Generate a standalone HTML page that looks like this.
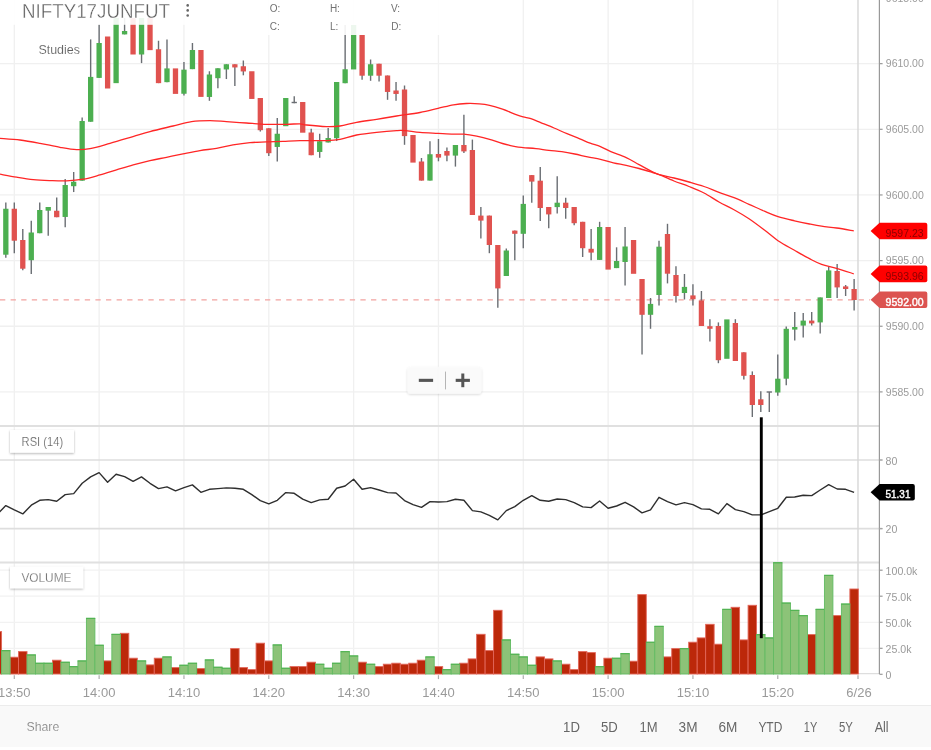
<!DOCTYPE html>
<html><head><meta charset="utf-8"><title>Chart</title>
<style>html,body{margin:0;padding:0;background:#fff;overflow:hidden}body{width:931px;height:750px;position:relative;font-family:"Liberation Sans",sans-serif}</style></head>
<body>
<svg width="931" height="750" viewBox="0 0 931 750" style="position:absolute;left:0;top:0">
<rect width="931" height="750" fill="#fff"/>
<line x1="14.30" y1="0" x2="14.30" y2="674.0" stroke="#f0f0f0" stroke-width="1.3"/>
<line x1="99.13" y1="0" x2="99.13" y2="674.0" stroke="#f0f0f0" stroke-width="1.3"/>
<line x1="183.96" y1="0" x2="183.96" y2="674.0" stroke="#f0f0f0" stroke-width="1.3"/>
<line x1="268.79" y1="0" x2="268.79" y2="674.0" stroke="#f0f0f0" stroke-width="1.3"/>
<line x1="353.62" y1="0" x2="353.62" y2="674.0" stroke="#f0f0f0" stroke-width="1.3"/>
<line x1="438.45" y1="0" x2="438.45" y2="674.0" stroke="#f0f0f0" stroke-width="1.3"/>
<line x1="523.28" y1="0" x2="523.28" y2="674.0" stroke="#f0f0f0" stroke-width="1.3"/>
<line x1="608.11" y1="0" x2="608.11" y2="674.0" stroke="#f0f0f0" stroke-width="1.3"/>
<line x1="692.94" y1="0" x2="692.94" y2="674.0" stroke="#f0f0f0" stroke-width="1.3"/>
<line x1="777.77" y1="0" x2="777.77" y2="674.0" stroke="#f0f0f0" stroke-width="1.3"/>
<line x1="0" y1="-2.00" x2="879.4" y2="-2.00" stroke="#f0f0f0" stroke-width="1.3"/>
<line x1="0" y1="63.65" x2="879.4" y2="63.65" stroke="#f0f0f0" stroke-width="1.3"/>
<line x1="0" y1="129.30" x2="879.4" y2="129.30" stroke="#f0f0f0" stroke-width="1.3"/>
<line x1="0" y1="194.95" x2="879.4" y2="194.95" stroke="#f0f0f0" stroke-width="1.3"/>
<line x1="0" y1="260.60" x2="879.4" y2="260.60" stroke="#f0f0f0" stroke-width="1.3"/>
<line x1="0" y1="326.25" x2="879.4" y2="326.25" stroke="#f0f0f0" stroke-width="1.3"/>
<line x1="0" y1="391.90" x2="879.4" y2="391.90" stroke="#f0f0f0" stroke-width="1.3"/>
<line x1="0" y1="570.2" x2="879.4" y2="570.2" stroke="#f2f2f2" stroke-width="1.3"/>
<line x1="0" y1="596.2" x2="879.4" y2="596.2" stroke="#f2f2f2" stroke-width="1.3"/>
<line x1="0" y1="622.3" x2="879.4" y2="622.3" stroke="#f2f2f2" stroke-width="1.3"/>
<line x1="0" y1="648.3" x2="879.4" y2="648.3" stroke="#f2f2f2" stroke-width="1.3"/>
<line x1="0" y1="426" x2="879.4" y2="426" stroke="#e0e0e0" stroke-width="1.8"/>
<line x1="0" y1="562.5" x2="879.4" y2="562.5" stroke="#e0e0e0" stroke-width="1.8"/>
<line x1="0" y1="460" x2="882.4" y2="460" stroke="#dedede" stroke-width="1.6"/>
<line x1="0" y1="528.6" x2="882.4" y2="528.6" stroke="#dedede" stroke-width="1.6"/>
<line x1="858.0" y1="0" x2="858.0" y2="674.0" stroke="#d8d8d8" stroke-width="1.45"/>
<line x1="0" y1="299.95" x2="870" y2="299.95" stroke="#f2a3a0" stroke-width="1.25" stroke-dasharray="5.3,5.3"/>
<line x1="0" y1="673.7" x2="879.4" y2="673.7" stroke="#dedede" stroke-width="1.2"/>
<rect x="-6.91" y="631.6" width="8.48" height="42.4" fill="#bc280a" stroke="#e2665a" stroke-width="0.9"/>
<rect x="10.06" y="657.2" width="8.48" height="16.8" fill="#bc280a" stroke="#e2665a" stroke-width="0.9"/>
<rect x="18.54" y="651.6" width="8.48" height="22.4" fill="#bc280a" stroke="#e2665a" stroke-width="0.9"/>
<rect x="52.47" y="660.2" width="8.48" height="13.8" fill="#bc280a" stroke="#e2665a" stroke-width="0.9"/>
<rect x="103.37" y="660.9" width="8.48" height="13.1" fill="#bc280a" stroke="#e2665a" stroke-width="0.9"/>
<rect x="120.34" y="633.3" width="8.48" height="40.7" fill="#bc280a" stroke="#e2665a" stroke-width="0.9"/>
<rect x="128.82" y="658.2" width="8.48" height="15.8" fill="#bc280a" stroke="#e2665a" stroke-width="0.9"/>
<rect x="145.79" y="664.9" width="8.48" height="9.1" fill="#bc280a" stroke="#e2665a" stroke-width="0.9"/>
<rect x="154.27" y="658.2" width="8.48" height="15.8" fill="#bc280a" stroke="#e2665a" stroke-width="0.9"/>
<rect x="171.24" y="667.6" width="8.48" height="6.4" fill="#bc280a" stroke="#e2665a" stroke-width="0.9"/>
<rect x="196.68" y="668.6" width="8.48" height="5.4" fill="#bc280a" stroke="#e2665a" stroke-width="0.9"/>
<rect x="230.62" y="648.6" width="8.48" height="25.4" fill="#bc280a" stroke="#e2665a" stroke-width="0.9"/>
<rect x="239.10" y="667.6" width="8.48" height="6.4" fill="#bc280a" stroke="#e2665a" stroke-width="0.9"/>
<rect x="247.58" y="669.6" width="8.48" height="4.4" fill="#bc280a" stroke="#e2665a" stroke-width="0.9"/>
<rect x="256.07" y="643.2" width="8.48" height="30.8" fill="#bc280a" stroke="#e2665a" stroke-width="0.9"/>
<rect x="264.55" y="660.9" width="8.48" height="13.1" fill="#bc280a" stroke="#e2665a" stroke-width="0.9"/>
<rect x="290.00" y="666.6" width="8.48" height="7.4" fill="#bc280a" stroke="#e2665a" stroke-width="0.9"/>
<rect x="298.48" y="666.6" width="8.48" height="7.4" fill="#bc280a" stroke="#e2665a" stroke-width="0.9"/>
<rect x="306.96" y="662.2" width="8.48" height="11.8" fill="#bc280a" stroke="#e2665a" stroke-width="0.9"/>
<rect x="357.86" y="662.2" width="8.48" height="11.8" fill="#bc280a" stroke="#e2665a" stroke-width="0.9"/>
<rect x="374.83" y="666.6" width="8.48" height="7.4" fill="#bc280a" stroke="#e2665a" stroke-width="0.9"/>
<rect x="383.31" y="664.2" width="8.48" height="9.8" fill="#bc280a" stroke="#e2665a" stroke-width="0.9"/>
<rect x="391.79" y="663.2" width="8.48" height="10.8" fill="#bc280a" stroke="#e2665a" stroke-width="0.9"/>
<rect x="400.28" y="664.2" width="8.48" height="9.8" fill="#bc280a" stroke="#e2665a" stroke-width="0.9"/>
<rect x="408.76" y="663.2" width="8.48" height="10.8" fill="#bc280a" stroke="#e2665a" stroke-width="0.9"/>
<rect x="417.24" y="660.2" width="8.48" height="13.8" fill="#bc280a" stroke="#e2665a" stroke-width="0.9"/>
<rect x="434.21" y="666.6" width="8.48" height="7.4" fill="#bc280a" stroke="#e2665a" stroke-width="0.9"/>
<rect x="459.66" y="663.2" width="8.48" height="10.8" fill="#bc280a" stroke="#e2665a" stroke-width="0.9"/>
<rect x="468.14" y="658.9" width="8.48" height="15.1" fill="#bc280a" stroke="#e2665a" stroke-width="0.9"/>
<rect x="476.62" y="634.3" width="8.48" height="39.7" fill="#bc280a" stroke="#e2665a" stroke-width="0.9"/>
<rect x="485.11" y="650.6" width="8.48" height="23.4" fill="#bc280a" stroke="#e2665a" stroke-width="0.9"/>
<rect x="493.59" y="610.3" width="8.48" height="63.7" fill="#bc280a" stroke="#e2665a" stroke-width="0.9"/>
<rect x="536.00" y="656.9" width="8.48" height="17.1" fill="#bc280a" stroke="#e2665a" stroke-width="0.9"/>
<rect x="544.49" y="658.9" width="8.48" height="15.1" fill="#bc280a" stroke="#e2665a" stroke-width="0.9"/>
<rect x="561.45" y="664.2" width="8.48" height="9.8" fill="#bc280a" stroke="#e2665a" stroke-width="0.9"/>
<rect x="569.94" y="669.6" width="8.48" height="4.4" fill="#bc280a" stroke="#e2665a" stroke-width="0.9"/>
<rect x="578.42" y="651.6" width="8.48" height="22.4" fill="#bc280a" stroke="#e2665a" stroke-width="0.9"/>
<rect x="586.90" y="652.6" width="8.48" height="21.4" fill="#bc280a" stroke="#e2665a" stroke-width="0.9"/>
<rect x="603.87" y="658.2" width="8.48" height="15.8" fill="#bc280a" stroke="#e2665a" stroke-width="0.9"/>
<rect x="629.32" y="661.2" width="8.48" height="12.8" fill="#bc280a" stroke="#e2665a" stroke-width="0.9"/>
<rect x="637.80" y="594.6" width="8.48" height="79.4" fill="#bc280a" stroke="#e2665a" stroke-width="0.9"/>
<rect x="663.25" y="656.9" width="8.48" height="17.1" fill="#bc280a" stroke="#e2665a" stroke-width="0.9"/>
<rect x="671.73" y="648.6" width="8.48" height="25.4" fill="#bc280a" stroke="#e2665a" stroke-width="0.9"/>
<rect x="688.70" y="642.2" width="8.48" height="31.8" fill="#bc280a" stroke="#e2665a" stroke-width="0.9"/>
<rect x="697.18" y="637.9" width="8.48" height="36.1" fill="#bc280a" stroke="#e2665a" stroke-width="0.9"/>
<rect x="705.66" y="624.3" width="8.48" height="49.7" fill="#bc280a" stroke="#e2665a" stroke-width="0.9"/>
<rect x="714.15" y="644.2" width="8.48" height="29.8" fill="#bc280a" stroke="#e2665a" stroke-width="0.9"/>
<rect x="731.11" y="607.3" width="8.48" height="66.7" fill="#bc280a" stroke="#e2665a" stroke-width="0.9"/>
<rect x="739.60" y="639.9" width="8.48" height="34.1" fill="#bc280a" stroke="#e2665a" stroke-width="0.9"/>
<rect x="748.08" y="605.3" width="8.48" height="68.7" fill="#bc280a" stroke="#e2665a" stroke-width="0.9"/>
<rect x="807.46" y="634.6" width="8.48" height="39.4" fill="#bc280a" stroke="#e2665a" stroke-width="0.9"/>
<rect x="832.91" y="615.6" width="8.48" height="58.4" fill="#bc280a" stroke="#e2665a" stroke-width="0.9"/>
<rect x="849.88" y="589.0" width="8.48" height="85.0" fill="#bc280a" stroke="#e2665a" stroke-width="0.9"/>
<rect x="1.58" y="650.6" width="8.48" height="23.4" fill="#8cc378" stroke="#62bb62" stroke-width="0.9"/>
<line x1="1.28" y1="650.7" x2="10.36" y2="650.7" stroke="#52b352" stroke-width="1.1"/>
<rect x="27.02" y="654.9" width="8.48" height="19.1" fill="#8cc378" stroke="#62bb62" stroke-width="0.9"/>
<line x1="26.72" y1="655.0" x2="35.81" y2="655.0" stroke="#52b352" stroke-width="1.1"/>
<rect x="35.51" y="663.2" width="8.48" height="10.8" fill="#8cc378" stroke="#62bb62" stroke-width="0.9"/>
<line x1="35.21" y1="663.3" x2="44.29" y2="663.3" stroke="#52b352" stroke-width="1.1"/>
<rect x="43.99" y="663.2" width="8.48" height="10.8" fill="#8cc378" stroke="#62bb62" stroke-width="0.9"/>
<line x1="43.69" y1="663.3" x2="52.77" y2="663.3" stroke="#52b352" stroke-width="1.1"/>
<rect x="60.96" y="662.2" width="8.48" height="11.8" fill="#8cc378" stroke="#62bb62" stroke-width="0.9"/>
<line x1="60.66" y1="662.3" x2="69.74" y2="662.3" stroke="#52b352" stroke-width="1.1"/>
<rect x="69.44" y="666.6" width="8.48" height="7.4" fill="#8cc378" stroke="#62bb62" stroke-width="0.9"/>
<line x1="69.14" y1="666.7" x2="78.22" y2="666.7" stroke="#52b352" stroke-width="1.1"/>
<rect x="77.92" y="660.9" width="8.48" height="13.1" fill="#8cc378" stroke="#62bb62" stroke-width="0.9"/>
<line x1="77.62" y1="661.0" x2="86.71" y2="661.0" stroke="#52b352" stroke-width="1.1"/>
<rect x="86.41" y="618.3" width="8.48" height="55.7" fill="#8cc378" stroke="#62bb62" stroke-width="0.9"/>
<line x1="86.11" y1="618.4" x2="95.19" y2="618.4" stroke="#52b352" stroke-width="1.1"/>
<rect x="94.89" y="645.2" width="8.48" height="28.8" fill="#8cc378" stroke="#62bb62" stroke-width="0.9"/>
<line x1="94.59" y1="645.3" x2="103.67" y2="645.3" stroke="#52b352" stroke-width="1.1"/>
<rect x="111.85" y="634.3" width="8.48" height="39.7" fill="#8cc378" stroke="#62bb62" stroke-width="0.9"/>
<line x1="111.55" y1="634.4" x2="120.64" y2="634.4" stroke="#52b352" stroke-width="1.1"/>
<rect x="137.30" y="660.9" width="8.48" height="13.1" fill="#8cc378" stroke="#62bb62" stroke-width="0.9"/>
<line x1="137.00" y1="661.0" x2="146.09" y2="661.0" stroke="#52b352" stroke-width="1.1"/>
<rect x="162.75" y="656.9" width="8.48" height="17.1" fill="#8cc378" stroke="#62bb62" stroke-width="0.9"/>
<line x1="162.45" y1="657.0" x2="171.54" y2="657.0" stroke="#52b352" stroke-width="1.1"/>
<rect x="179.72" y="665.2" width="8.48" height="8.8" fill="#8cc378" stroke="#62bb62" stroke-width="0.9"/>
<line x1="179.42" y1="665.3" x2="188.50" y2="665.3" stroke="#52b352" stroke-width="1.1"/>
<rect x="188.20" y="663.2" width="8.48" height="10.8" fill="#8cc378" stroke="#62bb62" stroke-width="0.9"/>
<line x1="187.90" y1="663.3" x2="196.98" y2="663.3" stroke="#52b352" stroke-width="1.1"/>
<rect x="205.17" y="659.9" width="8.48" height="14.1" fill="#8cc378" stroke="#62bb62" stroke-width="0.9"/>
<line x1="204.87" y1="660.0" x2="213.95" y2="660.0" stroke="#52b352" stroke-width="1.1"/>
<rect x="213.65" y="667.2" width="8.48" height="6.8" fill="#8cc378" stroke="#62bb62" stroke-width="0.9"/>
<line x1="213.35" y1="667.3" x2="222.43" y2="667.3" stroke="#52b352" stroke-width="1.1"/>
<rect x="222.13" y="668.2" width="8.48" height="5.8" fill="#8cc378" stroke="#62bb62" stroke-width="0.9"/>
<line x1="221.83" y1="668.3" x2="230.92" y2="668.3" stroke="#52b352" stroke-width="1.1"/>
<rect x="273.03" y="644.9" width="8.48" height="29.1" fill="#8cc378" stroke="#62bb62" stroke-width="0.9"/>
<line x1="272.73" y1="645.0" x2="281.81" y2="645.0" stroke="#52b352" stroke-width="1.1"/>
<rect x="281.51" y="668.2" width="8.48" height="5.8" fill="#8cc378" stroke="#62bb62" stroke-width="0.9"/>
<line x1="281.21" y1="668.3" x2="290.30" y2="668.3" stroke="#52b352" stroke-width="1.1"/>
<rect x="315.45" y="664.2" width="8.48" height="9.8" fill="#8cc378" stroke="#62bb62" stroke-width="0.9"/>
<line x1="315.15" y1="664.3" x2="324.23" y2="664.3" stroke="#52b352" stroke-width="1.1"/>
<rect x="323.93" y="668.2" width="8.48" height="5.8" fill="#8cc378" stroke="#62bb62" stroke-width="0.9"/>
<line x1="323.63" y1="668.3" x2="332.71" y2="668.3" stroke="#52b352" stroke-width="1.1"/>
<rect x="332.41" y="663.2" width="8.48" height="10.8" fill="#8cc378" stroke="#62bb62" stroke-width="0.9"/>
<line x1="332.11" y1="663.3" x2="341.20" y2="663.3" stroke="#52b352" stroke-width="1.1"/>
<rect x="340.90" y="651.6" width="8.48" height="22.4" fill="#8cc378" stroke="#62bb62" stroke-width="0.9"/>
<line x1="340.60" y1="651.7" x2="349.68" y2="651.7" stroke="#52b352" stroke-width="1.1"/>
<rect x="349.38" y="655.9" width="8.48" height="18.1" fill="#8cc378" stroke="#62bb62" stroke-width="0.9"/>
<line x1="349.08" y1="656.0" x2="358.16" y2="656.0" stroke="#52b352" stroke-width="1.1"/>
<rect x="366.34" y="664.2" width="8.48" height="9.8" fill="#8cc378" stroke="#62bb62" stroke-width="0.9"/>
<line x1="366.04" y1="664.3" x2="375.13" y2="664.3" stroke="#52b352" stroke-width="1.1"/>
<rect x="425.73" y="656.9" width="8.48" height="17.1" fill="#8cc378" stroke="#62bb62" stroke-width="0.9"/>
<line x1="425.43" y1="657.0" x2="434.51" y2="657.0" stroke="#52b352" stroke-width="1.1"/>
<rect x="442.69" y="669.6" width="8.48" height="4.4" fill="#8cc378" stroke="#62bb62" stroke-width="0.9"/>
<line x1="442.39" y1="669.7" x2="451.47" y2="669.7" stroke="#52b352" stroke-width="1.1"/>
<rect x="451.17" y="664.2" width="8.48" height="9.8" fill="#8cc378" stroke="#62bb62" stroke-width="0.9"/>
<line x1="450.87" y1="664.3" x2="459.96" y2="664.3" stroke="#52b352" stroke-width="1.1"/>
<rect x="502.07" y="639.9" width="8.48" height="34.1" fill="#8cc378" stroke="#62bb62" stroke-width="0.9"/>
<line x1="501.77" y1="640.0" x2="510.86" y2="640.0" stroke="#52b352" stroke-width="1.1"/>
<rect x="510.56" y="654.2" width="8.48" height="19.8" fill="#8cc378" stroke="#62bb62" stroke-width="0.9"/>
<line x1="510.26" y1="654.3" x2="519.34" y2="654.3" stroke="#52b352" stroke-width="1.1"/>
<rect x="519.04" y="656.9" width="8.48" height="17.1" fill="#8cc378" stroke="#62bb62" stroke-width="0.9"/>
<line x1="518.74" y1="657.0" x2="527.82" y2="657.0" stroke="#52b352" stroke-width="1.1"/>
<rect x="527.52" y="665.2" width="8.48" height="8.8" fill="#8cc378" stroke="#62bb62" stroke-width="0.9"/>
<line x1="527.22" y1="665.3" x2="536.30" y2="665.3" stroke="#52b352" stroke-width="1.1"/>
<rect x="552.97" y="660.9" width="8.48" height="13.1" fill="#8cc378" stroke="#62bb62" stroke-width="0.9"/>
<line x1="552.67" y1="661.0" x2="561.75" y2="661.0" stroke="#52b352" stroke-width="1.1"/>
<rect x="595.39" y="666.6" width="8.48" height="7.4" fill="#8cc378" stroke="#62bb62" stroke-width="0.9"/>
<line x1="595.09" y1="666.7" x2="604.17" y2="666.7" stroke="#52b352" stroke-width="1.1"/>
<rect x="612.35" y="658.2" width="8.48" height="15.8" fill="#8cc378" stroke="#62bb62" stroke-width="0.9"/>
<line x1="612.05" y1="658.3" x2="621.13" y2="658.3" stroke="#52b352" stroke-width="1.1"/>
<rect x="620.83" y="653.6" width="8.48" height="20.4" fill="#8cc378" stroke="#62bb62" stroke-width="0.9"/>
<line x1="620.53" y1="653.7" x2="629.62" y2="653.7" stroke="#52b352" stroke-width="1.1"/>
<rect x="646.28" y="642.2" width="8.48" height="31.8" fill="#8cc378" stroke="#62bb62" stroke-width="0.9"/>
<line x1="645.98" y1="642.3" x2="655.07" y2="642.3" stroke="#52b352" stroke-width="1.1"/>
<rect x="654.77" y="626.3" width="8.48" height="47.7" fill="#8cc378" stroke="#62bb62" stroke-width="0.9"/>
<line x1="654.47" y1="626.4" x2="663.55" y2="626.4" stroke="#52b352" stroke-width="1.1"/>
<rect x="680.22" y="648.6" width="8.48" height="25.4" fill="#8cc378" stroke="#62bb62" stroke-width="0.9"/>
<line x1="679.92" y1="648.7" x2="689.00" y2="648.7" stroke="#52b352" stroke-width="1.1"/>
<rect x="722.63" y="609.3" width="8.48" height="64.7" fill="#8cc378" stroke="#62bb62" stroke-width="0.9"/>
<line x1="722.33" y1="609.4" x2="731.41" y2="609.4" stroke="#52b352" stroke-width="1.1"/>
<rect x="756.56" y="634.6" width="8.48" height="39.4" fill="#8cc378" stroke="#62bb62" stroke-width="0.9"/>
<line x1="756.26" y1="634.7" x2="765.35" y2="634.7" stroke="#52b352" stroke-width="1.1"/>
<rect x="765.05" y="637.9" width="8.48" height="36.1" fill="#8cc378" stroke="#62bb62" stroke-width="0.9"/>
<line x1="764.75" y1="638.0" x2="773.83" y2="638.0" stroke="#52b352" stroke-width="1.1"/>
<rect x="773.53" y="562.7" width="8.48" height="111.3" fill="#8cc378" stroke="#62bb62" stroke-width="0.9"/>
<line x1="773.23" y1="562.8" x2="782.31" y2="562.8" stroke="#52b352" stroke-width="1.1"/>
<rect x="782.01" y="603.0" width="8.48" height="71.0" fill="#8cc378" stroke="#62bb62" stroke-width="0.9"/>
<line x1="781.71" y1="603.1" x2="790.79" y2="603.1" stroke="#52b352" stroke-width="1.1"/>
<rect x="790.49" y="610.3" width="8.48" height="63.7" fill="#8cc378" stroke="#62bb62" stroke-width="0.9"/>
<line x1="790.19" y1="610.4" x2="799.28" y2="610.4" stroke="#52b352" stroke-width="1.1"/>
<rect x="798.98" y="615.6" width="8.48" height="58.4" fill="#8cc378" stroke="#62bb62" stroke-width="0.9"/>
<line x1="798.68" y1="615.7" x2="807.76" y2="615.7" stroke="#52b352" stroke-width="1.1"/>
<rect x="815.94" y="609.3" width="8.48" height="64.7" fill="#8cc378" stroke="#62bb62" stroke-width="0.9"/>
<line x1="815.64" y1="609.4" x2="824.73" y2="609.4" stroke="#52b352" stroke-width="1.1"/>
<rect x="824.43" y="575.3" width="8.48" height="98.7" fill="#8cc378" stroke="#62bb62" stroke-width="0.9"/>
<line x1="824.13" y1="575.4" x2="833.21" y2="575.4" stroke="#52b352" stroke-width="1.1"/>
<rect x="841.39" y="604.0" width="8.48" height="70.0" fill="#8cc378" stroke="#62bb62" stroke-width="0.9"/>
<line x1="841.09" y1="604.1" x2="850.18" y2="604.1" stroke="#52b352" stroke-width="1.1"/>
<line x1="5.82" y1="202.50" x2="5.82" y2="257.80" stroke="#6a6e73" stroke-width="1.4"/>
<rect x="3.17" y="208.75" width="5.3" height="45.95" fill="#4caf50"/>
<line x1="14.30" y1="202.50" x2="14.30" y2="253.30" stroke="#6a6e73" stroke-width="1.4"/>
<rect x="11.65" y="208.75" width="5.3" height="31.95" fill="#e0524f"/>
<line x1="22.78" y1="229.00" x2="22.78" y2="270.30" stroke="#6a6e73" stroke-width="1.4"/>
<rect x="20.13" y="240.00" width="5.3" height="28.70" fill="#e0524f"/>
<line x1="31.27" y1="220.75" x2="31.27" y2="274.05" stroke="#6a6e73" stroke-width="1.4"/>
<rect x="28.62" y="232.50" width="5.3" height="27.70" fill="#4caf50"/>
<line x1="39.75" y1="202.50" x2="39.75" y2="233.20" stroke="#6a6e73" stroke-width="1.4"/>
<rect x="37.10" y="210.00" width="5.3" height="23.20" fill="#4caf50"/>
<line x1="48.23" y1="207.00" x2="48.23" y2="235.80" stroke="#6a6e73" stroke-width="1.4"/>
<rect x="45.58" y="207.00" width="5.3" height="3.70" fill="#4caf50"/>
<line x1="56.71" y1="197.50" x2="56.71" y2="217.20" stroke="#6a6e73" stroke-width="1.4"/>
<rect x="54.06" y="210.75" width="5.3" height="6.45" fill="#e0524f"/>
<line x1="65.20" y1="179.00" x2="65.20" y2="227.30" stroke="#6a6e73" stroke-width="1.4"/>
<rect x="62.55" y="185.00" width="5.3" height="31.95" fill="#4caf50"/>
<line x1="73.68" y1="172.00" x2="73.68" y2="192.05" stroke="#6a6e73" stroke-width="1.4"/>
<rect x="71.03" y="181.75" width="5.3" height="4.45" fill="#4caf50"/>
<line x1="82.16" y1="117.50" x2="82.16" y2="180.70" stroke="#6a6e73" stroke-width="1.4"/>
<rect x="79.51" y="121.00" width="5.3" height="59.70" fill="#4caf50"/>
<line x1="90.65" y1="39.40" x2="90.65" y2="121.75" stroke="#6a6e73" stroke-width="1.4"/>
<rect x="88.00" y="76.90" width="5.3" height="44.85" fill="#4caf50"/>
<line x1="99.13" y1="24.50" x2="99.13" y2="77.90" stroke="#6a6e73" stroke-width="1.4"/>
<rect x="96.48" y="43.00" width="5.3" height="34.90" fill="#4caf50"/>
<rect x="104.96" y="36.50" width="5.3" height="52.00" fill="#e0524f"/>
<rect x="113.45" y="18.00" width="5.3" height="65.15" fill="#4caf50"/>
<line x1="124.58" y1="18.00" x2="124.58" y2="34.40" stroke="#6a6e73" stroke-width="1.4"/>
<rect x="121.93" y="31.00" width="5.3" height="3.40" fill="#4caf50"/>
<rect x="130.41" y="18.00" width="5.3" height="36.50" fill="#e0524f"/>
<line x1="141.55" y1="18.00" x2="141.55" y2="63.10" stroke="#6a6e73" stroke-width="1.4"/>
<rect x="138.90" y="18.00" width="5.3" height="36.50" fill="#4caf50"/>
<rect x="147.38" y="18.00" width="5.3" height="32.15" fill="#e0524f"/>
<line x1="158.51" y1="40.75" x2="158.51" y2="83.15" stroke="#6a6e73" stroke-width="1.4"/>
<rect x="155.86" y="49.25" width="5.3" height="33.90" fill="#e0524f"/>
<line x1="166.99" y1="39.40" x2="166.99" y2="82.15" stroke="#6a6e73" stroke-width="1.4"/>
<rect x="164.34" y="68.40" width="5.3" height="13.75" fill="#4caf50"/>
<rect x="172.83" y="68.40" width="5.3" height="25.50" fill="#e0524f"/>
<line x1="183.96" y1="61.90" x2="183.96" y2="95.60" stroke="#6a6e73" stroke-width="1.4"/>
<rect x="181.31" y="69.65" width="5.3" height="24.10" fill="#4caf50"/>
<line x1="192.44" y1="43.00" x2="192.44" y2="69.15" stroke="#6a6e73" stroke-width="1.4"/>
<rect x="189.79" y="50.00" width="5.3" height="19.15" fill="#4caf50"/>
<rect x="198.28" y="50.00" width="5.3" height="46.90" fill="#e0524f"/>
<line x1="209.41" y1="71.25" x2="209.41" y2="100.80" stroke="#6a6e73" stroke-width="1.4"/>
<rect x="206.76" y="74.50" width="5.3" height="22.45" fill="#4caf50"/>
<line x1="217.89" y1="68.25" x2="217.89" y2="88.30" stroke="#6a6e73" stroke-width="1.4"/>
<rect x="215.24" y="68.25" width="5.3" height="9.95" fill="#4caf50"/>
<line x1="226.38" y1="64.25" x2="226.38" y2="79.05" stroke="#6a6e73" stroke-width="1.4"/>
<rect x="223.72" y="64.25" width="5.3" height="5.20" fill="#4caf50"/>
<line x1="234.86" y1="64.25" x2="234.86" y2="86.05" stroke="#6a6e73" stroke-width="1.4"/>
<rect x="232.21" y="64.25" width="5.3" height="3.20" fill="#e0524f"/>
<line x1="243.34" y1="60.50" x2="243.34" y2="75.30" stroke="#6a6e73" stroke-width="1.4"/>
<rect x="240.69" y="66.25" width="5.3" height="5.20" fill="#e0524f"/>
<rect x="249.17" y="71.25" width="5.3" height="27.70" fill="#e0524f"/>
<line x1="260.31" y1="98.00" x2="260.31" y2="131.55" stroke="#6a6e73" stroke-width="1.4"/>
<rect x="257.66" y="98.00" width="5.3" height="32.20" fill="#e0524f"/>
<line x1="268.79" y1="128.25" x2="268.79" y2="156.05" stroke="#6a6e73" stroke-width="1.4"/>
<rect x="266.14" y="128.25" width="5.3" height="24.95" fill="#e0524f"/>
<line x1="277.27" y1="118.00" x2="277.27" y2="161.55" stroke="#6a6e73" stroke-width="1.4"/>
<rect x="274.62" y="133.75" width="5.3" height="13.20" fill="#4caf50"/>
<rect x="283.11" y="98.00" width="5.3" height="28.20" fill="#4caf50"/>
<line x1="294.24" y1="96.25" x2="294.24" y2="103.20" stroke="#6a6e73" stroke-width="1.4"/>
<line x1="291.59" y1="102.50" x2="296.89" y2="102.50" stroke="#6a6e73" stroke-width="1.4"/>
<rect x="300.07" y="102.00" width="5.3" height="30.70" fill="#e0524f"/>
<line x1="311.21" y1="128.75" x2="311.21" y2="155.20" stroke="#6a6e73" stroke-width="1.4"/>
<rect x="308.56" y="132.50" width="5.3" height="22.70" fill="#e0524f"/>
<line x1="319.69" y1="133.75" x2="319.69" y2="157.80" stroke="#6a6e73" stroke-width="1.4"/>
<rect x="317.04" y="141.25" width="5.3" height="10.70" fill="#4caf50"/>
<line x1="328.17" y1="128.00" x2="328.17" y2="142.45" stroke="#6a6e73" stroke-width="1.4"/>
<rect x="325.52" y="138.00" width="5.3" height="4.45" fill="#4caf50"/>
<line x1="336.65" y1="82.00" x2="336.65" y2="141.05" stroke="#6a6e73" stroke-width="1.4"/>
<rect x="334.00" y="82.00" width="5.3" height="56.20" fill="#4caf50"/>
<line x1="345.14" y1="25.00" x2="345.14" y2="83.20" stroke="#6a6e73" stroke-width="1.4"/>
<rect x="342.49" y="69.25" width="5.3" height="13.95" fill="#4caf50"/>
<rect x="350.97" y="25.00" width="5.3" height="44.45" fill="#4caf50"/>
<line x1="362.10" y1="35.00" x2="362.10" y2="79.80" stroke="#6a6e73" stroke-width="1.4"/>
<rect x="359.45" y="35.00" width="5.3" height="40.70" fill="#e0524f"/>
<line x1="370.59" y1="59.50" x2="370.59" y2="80.80" stroke="#6a6e73" stroke-width="1.4"/>
<rect x="367.94" y="64.25" width="5.3" height="11.45" fill="#4caf50"/>
<line x1="379.07" y1="63.75" x2="379.07" y2="81.55" stroke="#6a6e73" stroke-width="1.4"/>
<rect x="376.42" y="63.75" width="5.3" height="11.95" fill="#e0524f"/>
<line x1="387.55" y1="75.50" x2="387.55" y2="99.80" stroke="#6a6e73" stroke-width="1.4"/>
<rect x="384.90" y="75.50" width="5.3" height="16.45" fill="#e0524f"/>
<line x1="396.04" y1="82.00" x2="396.04" y2="100.80" stroke="#6a6e73" stroke-width="1.4"/>
<rect x="393.39" y="90.50" width="5.3" height="3.45" fill="#e0524f"/>
<line x1="404.52" y1="85.50" x2="404.52" y2="144.80" stroke="#6a6e73" stroke-width="1.4"/>
<rect x="401.87" y="89.50" width="5.3" height="46.60" fill="#e0524f"/>
<rect x="410.35" y="135.00" width="5.3" height="27.60" fill="#e0524f"/>
<line x1="421.48" y1="158.00" x2="421.48" y2="180.60" stroke="#6a6e73" stroke-width="1.4"/>
<rect x="418.83" y="161.50" width="5.3" height="19.10" fill="#e0524f"/>
<line x1="429.97" y1="141.25" x2="429.97" y2="180.60" stroke="#6a6e73" stroke-width="1.4"/>
<rect x="427.32" y="154.25" width="5.3" height="26.35" fill="#4caf50"/>
<line x1="438.45" y1="139.00" x2="438.45" y2="161.30" stroke="#6a6e73" stroke-width="1.4"/>
<rect x="435.80" y="154.00" width="5.3" height="3.60" fill="#e0524f"/>
<line x1="446.93" y1="147.50" x2="446.93" y2="161.30" stroke="#6a6e73" stroke-width="1.4"/>
<rect x="444.28" y="151.00" width="5.3" height="4.60" fill="#e0524f"/>
<line x1="455.42" y1="145.00" x2="455.42" y2="166.60" stroke="#6a6e73" stroke-width="1.4"/>
<rect x="452.77" y="145.00" width="5.3" height="10.60" fill="#4caf50"/>
<line x1="463.90" y1="114.70" x2="463.90" y2="153.10" stroke="#6a6e73" stroke-width="1.4"/>
<rect x="461.25" y="145.00" width="5.3" height="6.40" fill="#e0524f"/>
<line x1="472.38" y1="139.60" x2="472.38" y2="215.00" stroke="#6a6e73" stroke-width="1.4"/>
<rect x="469.73" y="150.00" width="5.3" height="65.00" fill="#e0524f"/>
<line x1="480.87" y1="207.00" x2="480.87" y2="238.50" stroke="#6a6e73" stroke-width="1.4"/>
<rect x="478.22" y="215.60" width="5.3" height="5.00" fill="#e0524f"/>
<line x1="489.35" y1="215.60" x2="489.35" y2="253.20" stroke="#6a6e73" stroke-width="1.4"/>
<rect x="486.70" y="215.60" width="5.3" height="29.40" fill="#e0524f"/>
<line x1="497.83" y1="245.00" x2="497.83" y2="307.70" stroke="#6a6e73" stroke-width="1.4"/>
<rect x="495.18" y="245.00" width="5.3" height="43.40" fill="#e0524f"/>
<line x1="506.31" y1="248.50" x2="506.31" y2="276.00" stroke="#6a6e73" stroke-width="1.4"/>
<rect x="503.66" y="250.50" width="5.3" height="25.50" fill="#4caf50"/>
<line x1="514.80" y1="230.60" x2="514.80" y2="260.20" stroke="#6a6e73" stroke-width="1.4"/>
<rect x="512.15" y="230.60" width="5.3" height="3.20" fill="#e0524f"/>
<line x1="523.28" y1="195.40" x2="523.28" y2="248.20" stroke="#6a6e73" stroke-width="1.4"/>
<rect x="520.63" y="203.90" width="5.3" height="29.90" fill="#4caf50"/>
<line x1="531.76" y1="175.10" x2="531.76" y2="202.70" stroke="#6a6e73" stroke-width="1.4"/>
<rect x="529.11" y="175.10" width="5.3" height="6.50" fill="#e0524f"/>
<line x1="540.25" y1="167.00" x2="540.25" y2="221.00" stroke="#6a6e73" stroke-width="1.4"/>
<rect x="537.60" y="180.70" width="5.3" height="27.30" fill="#e0524f"/>
<line x1="548.73" y1="207.00" x2="548.73" y2="228.20" stroke="#6a6e73" stroke-width="1.4"/>
<rect x="546.08" y="207.00" width="5.3" height="7.40" fill="#e0524f"/>
<line x1="557.21" y1="176.30" x2="557.21" y2="213.60" stroke="#6a6e73" stroke-width="1.4"/>
<rect x="554.56" y="202.70" width="5.3" height="4.40" fill="#4caf50"/>
<line x1="565.70" y1="197.70" x2="565.70" y2="218.80" stroke="#6a6e73" stroke-width="1.4"/>
<rect x="563.05" y="202.70" width="5.3" height="5.30" fill="#e0524f"/>
<line x1="574.18" y1="207.00" x2="574.18" y2="225.30" stroke="#6a6e73" stroke-width="1.4"/>
<rect x="571.53" y="207.00" width="5.3" height="16.20" fill="#e0524f"/>
<line x1="582.66" y1="221.80" x2="582.66" y2="257.00" stroke="#6a6e73" stroke-width="1.4"/>
<rect x="580.01" y="221.80" width="5.3" height="26.40" fill="#e0524f"/>
<line x1="591.14" y1="229.00" x2="591.14" y2="260.20" stroke="#6a6e73" stroke-width="1.4"/>
<rect x="588.49" y="248.80" width="5.3" height="3.80" fill="#e0524f"/>
<line x1="599.63" y1="221.80" x2="599.63" y2="259.90" stroke="#6a6e73" stroke-width="1.4"/>
<rect x="596.98" y="227.00" width="5.3" height="32.90" fill="#4caf50"/>
<rect x="605.46" y="227.00" width="5.3" height="42.60" fill="#e0524f"/>
<line x1="616.59" y1="247.30" x2="616.59" y2="268.10" stroke="#6a6e73" stroke-width="1.4"/>
<rect x="613.94" y="261.00" width="5.3" height="7.10" fill="#4caf50"/>
<line x1="625.08" y1="227.00" x2="625.08" y2="285.40" stroke="#6a6e73" stroke-width="1.4"/>
<rect x="622.43" y="246.50" width="5.3" height="15.50" fill="#4caf50"/>
<rect x="630.91" y="240.00" width="5.3" height="33.80" fill="#e0524f"/>
<line x1="642.04" y1="279.00" x2="642.04" y2="354.40" stroke="#6a6e73" stroke-width="1.4"/>
<rect x="639.39" y="279.00" width="5.3" height="35.80" fill="#e0524f"/>
<line x1="650.52" y1="298.00" x2="650.52" y2="328.80" stroke="#6a6e73" stroke-width="1.4"/>
<rect x="647.88" y="303.90" width="5.3" height="10.90" fill="#4caf50"/>
<line x1="659.01" y1="240.80" x2="659.01" y2="305.40" stroke="#6a6e73" stroke-width="1.4"/>
<rect x="656.36" y="246.70" width="5.3" height="48.30" fill="#4caf50"/>
<line x1="667.49" y1="223.80" x2="667.49" y2="283.40" stroke="#6a6e73" stroke-width="1.4"/>
<rect x="664.84" y="234.00" width="5.3" height="39.70" fill="#e0524f"/>
<line x1="675.97" y1="266.30" x2="675.97" y2="302.40" stroke="#6a6e73" stroke-width="1.4"/>
<rect x="673.32" y="275.00" width="5.3" height="21.00" fill="#e0524f"/>
<line x1="684.46" y1="274.00" x2="684.46" y2="299.50" stroke="#6a6e73" stroke-width="1.4"/>
<rect x="681.81" y="286.90" width="5.3" height="6.10" fill="#4caf50"/>
<line x1="692.94" y1="284.20" x2="692.94" y2="305.40" stroke="#6a6e73" stroke-width="1.4"/>
<rect x="690.29" y="295.40" width="5.3" height="3.80" fill="#e0524f"/>
<line x1="701.42" y1="291.00" x2="701.42" y2="326.00" stroke="#6a6e73" stroke-width="1.4"/>
<rect x="698.77" y="300.40" width="5.3" height="25.60" fill="#e0524f"/>
<line x1="709.91" y1="319.20" x2="709.91" y2="341.50" stroke="#6a6e73" stroke-width="1.4"/>
<rect x="707.26" y="326.20" width="5.3" height="2.60" fill="#e0524f"/>
<line x1="718.39" y1="322.40" x2="718.39" y2="363.20" stroke="#6a6e73" stroke-width="1.4"/>
<rect x="715.74" y="326.00" width="5.3" height="34.20" fill="#e0524f"/>
<rect x="724.22" y="319.40" width="5.3" height="39.40" fill="#4caf50"/>
<line x1="735.36" y1="319.20" x2="735.36" y2="361.00" stroke="#6a6e73" stroke-width="1.4"/>
<rect x="732.71" y="323.00" width="5.3" height="38.00" fill="#e0524f"/>
<line x1="743.84" y1="352.30" x2="743.84" y2="379.60" stroke="#6a6e73" stroke-width="1.4"/>
<rect x="741.19" y="352.30" width="5.3" height="23.50" fill="#e0524f"/>
<line x1="752.32" y1="371.40" x2="752.32" y2="417.00" stroke="#6a6e73" stroke-width="1.4"/>
<rect x="749.67" y="375.00" width="5.3" height="30.00" fill="#e0524f"/>
<line x1="760.80" y1="391.30" x2="760.80" y2="412.00" stroke="#6a6e73" stroke-width="1.4"/>
<rect x="758.15" y="399.30" width="5.3" height="5.70" fill="#e0524f"/>
<line x1="769.29" y1="392.00" x2="769.29" y2="412.00" stroke="#6a6e73" stroke-width="1.4"/>
<line x1="766.64" y1="392.00" x2="771.94" y2="392.00" stroke="#6a6e73" stroke-width="1.4"/>
<line x1="777.77" y1="354.40" x2="777.77" y2="395.70" stroke="#6a6e73" stroke-width="1.4"/>
<rect x="775.12" y="378.70" width="5.3" height="13.80" fill="#4caf50"/>
<line x1="786.25" y1="326.50" x2="786.25" y2="385.20" stroke="#6a6e73" stroke-width="1.4"/>
<rect x="783.60" y="328.80" width="5.3" height="49.90" fill="#4caf50"/>
<line x1="794.74" y1="312.00" x2="794.74" y2="340.60" stroke="#6a6e73" stroke-width="1.4"/>
<rect x="792.09" y="327.00" width="5.3" height="2.60" fill="#4caf50"/>
<line x1="803.22" y1="313.00" x2="803.22" y2="337.60" stroke="#6a6e73" stroke-width="1.4"/>
<rect x="800.57" y="320.60" width="5.3" height="5.00" fill="#4caf50"/>
<line x1="811.70" y1="312.00" x2="811.70" y2="325.60" stroke="#6a6e73" stroke-width="1.4"/>
<rect x="809.05" y="320.60" width="5.3" height="2.80" fill="#e0524f"/>
<line x1="820.19" y1="297.40" x2="820.19" y2="333.40" stroke="#6a6e73" stroke-width="1.4"/>
<rect x="817.54" y="297.40" width="5.3" height="25.00" fill="#4caf50"/>
<line x1="828.67" y1="267.00" x2="828.67" y2="298.00" stroke="#6a6e73" stroke-width="1.4"/>
<rect x="826.02" y="270.40" width="5.3" height="27.60" fill="#4caf50"/>
<line x1="837.15" y1="264.00" x2="837.15" y2="298.00" stroke="#6a6e73" stroke-width="1.4"/>
<rect x="834.50" y="271.00" width="5.3" height="16.40" fill="#e0524f"/>
<line x1="845.63" y1="285.00" x2="845.63" y2="296.00" stroke="#6a6e73" stroke-width="1.4"/>
<rect x="842.98" y="286.40" width="5.3" height="2.60" fill="#e0524f"/>
<line x1="854.12" y1="279.00" x2="854.12" y2="310.60" stroke="#6a6e73" stroke-width="1.4"/>
<rect x="851.47" y="289.00" width="5.3" height="11.00" fill="#e0524f"/>
<path d="M0.00,138.30 C3.33,138.58 13.33,139.17 20.00,140.00 C26.67,140.83 33.33,142.08 40.00,143.30 C46.67,144.52 53.90,146.25 60.00,147.30 C66.10,148.35 71.60,149.38 76.60,149.60 C81.60,149.82 84.43,149.65 90.00,148.60 C95.57,147.55 102.83,145.30 110.00,143.30 C117.17,141.30 126.33,138.55 133.00,136.60 C139.67,134.65 143.33,133.37 150.00,131.60 C156.67,129.83 166.08,127.67 173.00,126.00 C179.92,124.33 185.33,122.50 191.50,121.60 C197.67,120.70 204.18,120.60 210.00,120.60 C215.82,120.60 220.33,121.20 226.40,121.60 C232.47,122.00 239.73,122.55 246.40,123.00 C253.07,123.45 259.73,124.08 266.40,124.30 C273.07,124.52 280.80,124.38 286.40,124.30 C292.00,124.22 296.63,123.68 300.00,123.80 C303.37,123.92 302.17,124.53 306.60,125.00 C311.03,125.47 321.03,126.43 326.60,126.60 C332.17,126.77 335.00,126.72 340.00,126.00 C345.00,125.28 350.50,123.42 356.60,122.30 C362.70,121.18 369.93,120.35 376.60,119.30 C383.27,118.25 389.37,117.13 396.60,116.00 C403.83,114.87 413.10,113.77 420.00,112.50 C426.90,111.23 432.42,109.68 438.00,108.40 C443.58,107.12 448.77,105.62 453.50,104.80 C458.23,103.98 462.10,103.67 466.40,103.50 C470.70,103.33 475.43,103.50 479.30,103.80 C483.17,104.10 485.73,104.40 489.60,105.30 C493.47,106.20 498.20,107.70 502.50,109.20 C506.80,110.70 511.97,113.02 515.40,114.30 C518.83,115.58 520.52,116.17 523.10,116.90 C525.68,117.63 527.88,117.72 530.90,118.70 C533.92,119.68 537.35,121.25 541.20,122.80 C545.05,124.35 549.70,126.18 554.00,128.00 C558.30,129.82 562.70,131.90 567.00,133.70 C571.30,135.50 575.93,137.22 579.80,138.80 C583.67,140.38 586.75,141.90 590.20,143.20 C593.65,144.50 597.07,145.18 600.50,146.60 C603.93,148.02 606.52,149.87 610.80,151.70 C615.08,153.53 621.48,155.45 626.20,157.60 C630.92,159.75 634.80,162.27 639.10,164.60 C643.40,166.93 648.52,169.88 652.00,171.60 C655.48,173.32 656.33,173.33 660.00,174.90 C663.67,176.47 669.17,179.07 674.00,181.00 C678.83,182.93 684.00,184.50 689.00,186.50 C694.00,188.50 699.00,190.42 704.00,193.00 C709.00,195.58 714.00,199.22 719.00,202.00 C724.00,204.78 729.00,206.92 734.00,209.70 C739.00,212.48 743.93,215.32 749.00,218.70 C754.07,222.08 759.57,226.33 764.40,230.00 C769.23,233.67 772.98,237.32 778.00,240.70 C783.02,244.08 789.25,247.30 794.50,250.30 C799.75,253.30 804.98,256.35 809.50,258.70 C814.02,261.05 817.08,262.80 821.60,264.40 C826.12,266.00 831.23,266.73 836.60,268.30 C841.97,269.87 850.93,272.88 853.80,273.80" fill="none" stroke="#ff2626" stroke-width="1.3" stroke-linejoin="round"/>
<path d="M0.00,174.20 C2.77,174.70 11.05,176.30 16.60,177.20 C22.15,178.10 27.73,179.03 33.30,179.60 C38.87,180.17 44.45,180.38 50.00,180.60 C55.55,180.82 61.07,181.13 66.60,180.90 C72.13,180.67 77.63,180.20 83.20,179.20 C88.77,178.20 94.45,176.45 100.00,174.90 C105.55,173.35 110.97,171.57 116.50,169.90 C122.03,168.23 127.62,166.45 133.20,164.90 C138.78,163.35 144.45,161.87 150.00,160.60 C155.55,159.33 161.00,158.42 166.50,157.30 C172.00,156.18 177.42,155.02 183.00,153.90 C188.58,152.78 194.42,151.53 200.00,150.60 C205.58,149.67 211.00,149.25 216.50,148.30 C222.00,147.35 227.42,145.85 233.00,144.90 C238.58,143.95 244.43,143.10 250.00,142.60 C255.57,142.10 260.90,142.12 266.40,141.90 C271.90,141.68 277.40,141.52 283.00,141.30 C288.60,141.08 292.73,140.72 300.00,140.60 C307.27,140.48 319.93,140.82 326.60,140.60 C333.27,140.38 335.00,140.23 340.00,139.30 C345.00,138.37 350.50,136.17 356.60,135.00 C362.70,133.83 369.93,133.03 376.60,132.30 C383.27,131.57 391.87,130.88 396.60,130.60 C401.33,130.32 401.10,130.30 405.00,130.60 C408.90,130.90 414.50,131.93 420.00,132.40 C425.50,132.87 432.42,133.10 438.00,133.40 C443.58,133.70 449.20,134.07 453.50,134.20 C457.80,134.33 459.93,133.87 463.80,134.20 C467.67,134.53 472.40,135.35 476.70,136.20 C481.00,137.05 485.30,138.08 489.60,139.30 C493.90,140.52 498.20,142.28 502.50,143.50 C506.80,144.72 511.97,145.92 515.40,146.60 C518.83,147.28 519.67,147.27 523.10,147.60 C526.53,147.93 531.70,148.13 536.00,148.60 C540.30,149.07 544.60,149.88 548.90,150.40 C553.20,150.92 557.50,151.10 561.80,151.70 C566.10,152.30 570.40,153.13 574.70,154.00 C579.00,154.87 583.30,156.00 587.60,156.90 C591.90,157.80 596.20,158.42 600.50,159.40 C604.80,160.38 609.12,161.80 613.40,162.80 C617.68,163.80 621.92,164.45 626.20,165.40 C630.48,166.35 634.80,167.35 639.10,168.50 C643.40,169.65 648.52,171.23 652.00,172.30 C655.48,173.37 656.33,173.95 660.00,174.90 C663.67,175.85 669.17,176.82 674.00,178.00 C678.83,179.18 684.00,180.58 689.00,182.00 C694.00,183.42 699.00,184.78 704.00,186.50 C709.00,188.22 714.00,190.43 719.00,192.30 C724.00,194.17 729.00,195.70 734.00,197.70 C739.00,199.70 743.93,202.05 749.00,204.30 C754.07,206.55 759.57,209.15 764.40,211.20 C769.23,213.25 772.98,215.00 778.00,216.60 C783.02,218.20 789.25,219.57 794.50,220.80 C799.75,222.03 804.98,223.10 809.50,224.00 C814.02,224.90 817.08,225.53 821.60,226.20 C826.12,226.87 831.23,227.23 836.60,228.00 C841.97,228.77 850.93,230.33 853.80,230.80" fill="none" stroke="#ff2626" stroke-width="1.3" stroke-linejoin="round"/>
<path d="M-2.7,514.3 L5.8,505.6 L14.3,509.9 L22.8,513.9 L31.3,505.2 L39.7,500.3 L48.2,499.6 L56.7,501.3 L65.2,494.6 L73.7,493.6 L82.2,483.3 L90.6,476.9 L99.1,472.6 L107.6,482.3 L116.1,474.3 L124.6,476.6 L133.1,481.3 L141.5,476.9 L150.0,483.3 L158.5,488.6 L167.0,486.9 L175.5,490.9 L184.0,487.6 L192.4,484.9 L200.9,492.3 L209.4,489.3 L217.9,488.6 L226.4,487.9 L234.9,488.3 L243.3,489.3 L251.8,494.6 L260.3,500.6 L268.8,503.9 L277.3,500.3 L285.8,492.6 L294.2,493.3 L302.7,499.1 L311.2,502.6 L319.7,499.9 L328.2,499.3 L336.7,488.3 L345.1,486.0 L353.6,479.3 L362.1,489.3 L370.6,487.6 L379.1,490.0 L387.6,492.6 L396.0,493.0 L404.5,500.6 L413.0,504.6 L421.5,507.3 L430.0,501.6 L438.5,502.0 L446.9,501.6 L455.4,499.3 L463.9,500.3 L472.4,510.6 L480.9,511.9 L489.3,515.3 L497.8,519.9 L506.3,510.6 L514.8,506.6 L523.3,500.3 L531.8,495.6 L540.2,500.3 L548.7,501.3 L557.2,499.0 L565.7,499.6 L574.2,502.6 L582.7,506.9 L591.1,507.6 L599.6,501.0 L608.1,508.3 L616.6,506.0 L625.1,502.3 L633.6,506.9 L642.0,512.9 L650.5,509.9 L659.0,497.3 L667.5,501.6 L676.0,504.9 L684.5,502.6 L692.9,504.6 L701.4,508.9 L709.9,509.3 L718.4,513.9 L726.9,503.6 L735.4,509.6 L743.8,511.6 L752.3,514.9 L760.8,514.9 L769.3,511.6 L777.8,508.3 L786.3,497.3 L794.7,497.0 L803.2,495.3 L811.7,495.6 L820.2,490.0 L828.7,484.6 L837.2,489.0 L845.6,489.3 L854.1,492.3" fill="none" stroke="#2e2e2e" stroke-width="1.4" stroke-linejoin="round"/>
<line x1="761.3" y1="417.3" x2="761.3" y2="638.2" stroke="#000" stroke-width="2.9"/>
<rect x="0" y="0" width="262" height="24.8" fill="#fff" fill-opacity="0.9"/>
<rect x="262" y="0" width="190" height="35" fill="#fff" fill-opacity="0.9"/>
<line x1="879.4" y1="0" x2="879.4" y2="674.0" stroke="#999" stroke-width="1.2"/>
<line x1="879.4" y1="-2.00" x2="882.6" y2="-2.00" stroke="#999" stroke-width="1.2"/>
<g opacity="0.99"><text x="885.8" y="1.75" font-family="Liberation Sans, sans-serif" font-size="10.8" fill="#9a9a9a" textLength="38" lengthAdjust="spacingAndGlyphs">9615.00</text></g>
<line x1="879.4" y1="63.65" x2="882.6" y2="63.65" stroke="#999" stroke-width="1.2"/>
<g opacity="0.99"><text x="885.8" y="67.40" font-family="Liberation Sans, sans-serif" font-size="10.8" fill="#9a9a9a" textLength="38" lengthAdjust="spacingAndGlyphs">9610.00</text></g>
<line x1="879.4" y1="129.30" x2="882.6" y2="129.30" stroke="#999" stroke-width="1.2"/>
<g opacity="0.99"><text x="885.8" y="133.05" font-family="Liberation Sans, sans-serif" font-size="10.8" fill="#9a9a9a" textLength="38" lengthAdjust="spacingAndGlyphs">9605.00</text></g>
<line x1="879.4" y1="194.95" x2="882.6" y2="194.95" stroke="#999" stroke-width="1.2"/>
<g opacity="0.99"><text x="885.8" y="198.70" font-family="Liberation Sans, sans-serif" font-size="10.8" fill="#9a9a9a" textLength="38" lengthAdjust="spacingAndGlyphs">9600.00</text></g>
<line x1="879.4" y1="260.60" x2="882.6" y2="260.60" stroke="#999" stroke-width="1.2"/>
<g opacity="0.99"><text x="885.8" y="264.35" font-family="Liberation Sans, sans-serif" font-size="10.8" fill="#9a9a9a" textLength="38" lengthAdjust="spacingAndGlyphs">9595.00</text></g>
<line x1="879.4" y1="326.25" x2="882.6" y2="326.25" stroke="#999" stroke-width="1.2"/>
<g opacity="0.99"><text x="885.8" y="330.00" font-family="Liberation Sans, sans-serif" font-size="10.8" fill="#9a9a9a" textLength="38" lengthAdjust="spacingAndGlyphs">9590.00</text></g>
<line x1="879.4" y1="391.90" x2="882.6" y2="391.90" stroke="#999" stroke-width="1.2"/>
<g opacity="0.99"><text x="885.8" y="395.65" font-family="Liberation Sans, sans-serif" font-size="10.8" fill="#9a9a9a" textLength="38" lengthAdjust="spacingAndGlyphs">9585.00</text></g>
<line x1="879.4" y1="460" x2="882.6" y2="460" stroke="#a5a5a5" stroke-width="1.3"/>
<g opacity="0.99"><text x="885.6" y="464.80" font-family="Liberation Sans, sans-serif" font-size="10.6" fill="#999">80</text></g>
<line x1="879.4" y1="528.6" x2="882.6" y2="528.6" stroke="#a5a5a5" stroke-width="1.3"/>
<g opacity="0.99"><text x="885.6" y="533.40" font-family="Liberation Sans, sans-serif" font-size="10.6" fill="#999">20</text></g>
<line x1="879.4" y1="570.2" x2="882.6" y2="570.2" stroke="#999" stroke-width="1.2"/>
<g opacity="0.99"><text x="885.6" y="574.80" font-family="Liberation Sans, sans-serif" font-size="10.6" fill="#999">100.0k</text></g>
<line x1="879.4" y1="596.2" x2="882.6" y2="596.2" stroke="#999" stroke-width="1.2"/>
<g opacity="0.99"><text x="885.6" y="600.80" font-family="Liberation Sans, sans-serif" font-size="10.6" fill="#999">75.0k</text></g>
<line x1="879.4" y1="622.3" x2="882.6" y2="622.3" stroke="#999" stroke-width="1.2"/>
<g opacity="0.99"><text x="885.6" y="626.90" font-family="Liberation Sans, sans-serif" font-size="10.6" fill="#999">50.0k</text></g>
<line x1="879.4" y1="648.3" x2="882.6" y2="648.3" stroke="#999" stroke-width="1.2"/>
<g opacity="0.99"><text x="885.6" y="652.90" font-family="Liberation Sans, sans-serif" font-size="10.6" fill="#999">25.0k</text></g>
<line x1="879.4" y1="674.3" x2="882.6" y2="674.3" stroke="#999" stroke-width="1.2"/>
<g opacity="0.99"><text x="885.6" y="678.90" font-family="Liberation Sans, sans-serif" font-size="10.6" fill="#999">0</text></g>
<path d="M870.6,231 L879.6,222.7 L925.3,222.7 Q927.3,222.7 927.3,224.7 L927.3,237.3 Q927.3,239.3 925.3,239.3 L879.6,239.3 Z" fill="#ff0000"/>
<g opacity="0.99"><text x="885.6" y="236.90" font-family="Liberation Sans, sans-serif" font-size="11.4" fill="#8a0000" textLength="38" lengthAdjust="spacingAndGlyphs">9597.23</text></g>
<path d="M870.6,273.9 L879.6,265.59999999999997 L925.3,265.59999999999997 Q927.3,265.59999999999997 927.3,267.59999999999997 L927.3,280.2 Q927.3,282.2 925.3,282.2 L879.6,282.2 Z" fill="#ff0000"/>
<g opacity="0.99"><text x="885.6" y="279.80" font-family="Liberation Sans, sans-serif" font-size="11.4" fill="#8a0000" textLength="38" lengthAdjust="spacingAndGlyphs">9593.96</text></g>
<path d="M870.6,299.8 L879.6,291.5 L925.3,291.5 Q927.3,291.5 927.3,293.5 L927.3,306.1 Q927.3,308.1 925.3,308.1 L879.6,308.1 Z" fill="#dc5350"/>
<g opacity="0.99"><text x="885.6" y="305.70" font-family="Liberation Sans, sans-serif" font-size="11.4" stroke="#fff" stroke-width="0.45" fill="#fff" textLength="38" lengthAdjust="spacingAndGlyphs">9592.00</text></g>
<path d="M870.6,492.2 L879.6,483.9 L912.8,483.9 Q914.8,483.9 914.8,485.9 L914.8,498.5 Q914.8,500.5 912.8,500.5 L879.6,500.5 Z" fill="#000"/>
<g opacity="0.99"><text x="885.6" y="498.10" font-family="Liberation Sans, sans-serif" font-size="11.4" stroke="#fff" stroke-width="0.45" fill="#fff" textLength="24.8" lengthAdjust="spacingAndGlyphs">51.31</text></g>
<line x1="14.30" y1="675.2" x2="14.30" y2="679.1" stroke="#adadad" stroke-width="1.2"/>
<g opacity="0.99"><text x="14.30" y="697" text-anchor="middle" font-family="Liberation Sans, sans-serif" font-size="13" fill="#999">13:50</text></g>
<line x1="99.13" y1="675.2" x2="99.13" y2="679.1" stroke="#adadad" stroke-width="1.2"/>
<g opacity="0.99"><text x="99.13" y="697" text-anchor="middle" font-family="Liberation Sans, sans-serif" font-size="13" fill="#999">14:00</text></g>
<line x1="183.96" y1="675.2" x2="183.96" y2="679.1" stroke="#adadad" stroke-width="1.2"/>
<g opacity="0.99"><text x="183.96" y="697" text-anchor="middle" font-family="Liberation Sans, sans-serif" font-size="13" fill="#999">14:10</text></g>
<line x1="268.79" y1="675.2" x2="268.79" y2="679.1" stroke="#adadad" stroke-width="1.2"/>
<g opacity="0.99"><text x="268.79" y="697" text-anchor="middle" font-family="Liberation Sans, sans-serif" font-size="13" fill="#999">14:20</text></g>
<line x1="353.62" y1="675.2" x2="353.62" y2="679.1" stroke="#adadad" stroke-width="1.2"/>
<g opacity="0.99"><text x="353.62" y="697" text-anchor="middle" font-family="Liberation Sans, sans-serif" font-size="13" fill="#999">14:30</text></g>
<line x1="438.45" y1="675.2" x2="438.45" y2="679.1" stroke="#adadad" stroke-width="1.2"/>
<g opacity="0.99"><text x="438.45" y="697" text-anchor="middle" font-family="Liberation Sans, sans-serif" font-size="13" fill="#999">14:40</text></g>
<line x1="523.28" y1="675.2" x2="523.28" y2="679.1" stroke="#adadad" stroke-width="1.2"/>
<g opacity="0.99"><text x="523.28" y="697" text-anchor="middle" font-family="Liberation Sans, sans-serif" font-size="13" fill="#999">14:50</text></g>
<line x1="608.11" y1="675.2" x2="608.11" y2="679.1" stroke="#adadad" stroke-width="1.2"/>
<g opacity="0.99"><text x="608.11" y="697" text-anchor="middle" font-family="Liberation Sans, sans-serif" font-size="13" fill="#999">15:00</text></g>
<line x1="692.94" y1="675.2" x2="692.94" y2="679.1" stroke="#adadad" stroke-width="1.2"/>
<g opacity="0.99"><text x="692.94" y="697" text-anchor="middle" font-family="Liberation Sans, sans-serif" font-size="13" fill="#999">15:10</text></g>
<line x1="777.77" y1="675.2" x2="777.77" y2="679.1" stroke="#adadad" stroke-width="1.2"/>
<g opacity="0.99"><text x="777.77" y="697" text-anchor="middle" font-family="Liberation Sans, sans-serif" font-size="13" fill="#999">15:20</text></g>
<line x1="858.0" y1="675.2" x2="858.0" y2="679.1" stroke="#adadad" stroke-width="1.2"/>
<g opacity="0.99"><text x="859" y="697" text-anchor="middle" font-family="Liberation Sans, sans-serif" font-size="13" fill="#999">6/26</text></g>
<rect x="0" y="705.2" width="931" height="41.7" fill="#f9f9f9"/>
<line x1="0" y1="705.5" x2="931" y2="705.5" stroke="#ececec" stroke-width="1"/>
<g opacity="0.99"><text x="26.5" y="731.1" font-family="Liberation Sans, sans-serif" font-size="13.5" fill="#808080" stroke="#f9f9f9" stroke-width="0.15" paint-order="fill stroke" textLength="32.8" lengthAdjust="spacingAndGlyphs">Share</text></g>
<g opacity="0.99"><text x="563.1" y="732" font-family="Liberation Sans, sans-serif" font-size="14" fill="#666" textLength="16.8" lengthAdjust="spacingAndGlyphs">1D</text></g>
<g opacity="0.99"><text x="600.9" y="732" font-family="Liberation Sans, sans-serif" font-size="14" fill="#666" textLength="16.8" lengthAdjust="spacingAndGlyphs">5D</text></g>
<g opacity="0.99"><text x="639.5" y="732" font-family="Liberation Sans, sans-serif" font-size="14" fill="#666" textLength="18.1" lengthAdjust="spacingAndGlyphs">1M</text></g>
<g opacity="0.99"><text x="678.6" y="732" font-family="Liberation Sans, sans-serif" font-size="14" fill="#666" textLength="18.9" lengthAdjust="spacingAndGlyphs">3M</text></g>
<g opacity="0.99"><text x="718.5" y="732" font-family="Liberation Sans, sans-serif" font-size="14" fill="#666" textLength="18.9" lengthAdjust="spacingAndGlyphs">6M</text></g>
<g opacity="0.99"><text x="758.4" y="732" font-family="Liberation Sans, sans-serif" font-size="14" fill="#666" textLength="23.9" lengthAdjust="spacingAndGlyphs">YTD</text></g>
<g opacity="0.99"><text x="803.8" y="732" font-family="Liberation Sans, sans-serif" font-size="14" fill="#666" textLength="13.4" lengthAdjust="spacingAndGlyphs">1Y</text></g>
<g opacity="0.99"><text x="839" y="732" font-family="Liberation Sans, sans-serif" font-size="14" fill="#666" textLength="13.9" lengthAdjust="spacingAndGlyphs">5Y</text></g>
<g opacity="0.99"><text x="874.7" y="732" font-family="Liberation Sans, sans-serif" font-size="14" fill="#666" textLength="13.9" lengthAdjust="spacingAndGlyphs">All</text></g>
<g opacity="0.99"><text x="22" y="17.6" font-family="Liberation Sans, sans-serif" font-size="20.6" fill="#5e5e5e" stroke="#fff" stroke-width="0.38" paint-order="fill stroke" textLength="148" lengthAdjust="spacingAndGlyphs">NIFTY17JUNFUT</text></g>
<circle cx="187.7" cy="5.4" r="1.3" fill="#666"/>
<circle cx="187.7" cy="10.4" r="1.3" fill="#666"/>
<circle cx="187.7" cy="15.5" r="1.3" fill="#666"/>
<g opacity="0.99"><text x="38.4" y="53.7" font-family="Liberation Sans, sans-serif" font-size="13.2" fill="#606060" stroke="#fff" stroke-width="0.12" paint-order="fill stroke" textLength="41.5" lengthAdjust="spacingAndGlyphs">Studies</text></g>
<g opacity="0.99"><text x="269.8" y="12" font-family="Liberation Sans, sans-serif" font-size="10" fill="#707070">O:</text></g>
<g opacity="0.99"><text x="329.9" y="12" font-family="Liberation Sans, sans-serif" font-size="10" fill="#707070">H:</text></g>
<g opacity="0.99"><text x="390.9" y="12" font-family="Liberation Sans, sans-serif" font-size="10" fill="#707070">V:</text></g>
<g opacity="0.99"><text x="269.8" y="29.6" font-family="Liberation Sans, sans-serif" font-size="10" fill="#707070">C:</text></g>
<g opacity="0.99"><text x="329.9" y="29.6" font-family="Liberation Sans, sans-serif" font-size="10" fill="#707070">L:</text></g>
<g opacity="0.99"><text x="391.2" y="29.6" font-family="Liberation Sans, sans-serif" font-size="10" fill="#707070">D:</text></g>
<defs><filter id="sh" x="-10%" y="-20%" width="120%" height="150%"><feDropShadow dx="0" dy="1" stdDeviation="0.8" flood-color="#000" flood-opacity="0.3"/></filter><filter id="sh2" x="-10%" y="-20%" width="120%" height="150%"><feDropShadow dx="0" dy="1" stdDeviation="0.9" flood-color="#000" flood-opacity="0.16"/></filter></defs>
<rect x="10" y="430" width="64" height="22.7" fill="#fff" filter="url(#sh)"/>
<g opacity="0.99"><text x="21.6" y="446" font-family="Liberation Sans, sans-serif" font-size="13" fill="#5e5e5e" stroke="#fff" stroke-width="0.2" paint-order="fill stroke" textLength="41.5" lengthAdjust="spacingAndGlyphs">RSI (14)</text></g>
<rect x="10" y="566.7" width="73.2" height="21.6" fill="#fff" filter="url(#sh)"/>
<g opacity="0.99"><text x="21.4" y="582" font-family="Liberation Sans, sans-serif" font-size="13" fill="#5e5e5e" stroke="#fff" stroke-width="0.26" paint-order="fill stroke" textLength="50" lengthAdjust="spacingAndGlyphs">VOLUME</text></g>
<rect x="407.4" y="366.8" width="74.1" height="26.9" rx="3.5" fill="#fbfbfb" fill-opacity="0.92" filter="url(#sh2)"/>
<rect x="418.8" y="378.8" width="14.3" height="3.1" fill="#555"/>
<line x1="445.5" y1="371.6" x2="445.5" y2="389.4" stroke="#b5b5b5" stroke-width="1"/>
<rect x="455.7" y="378.8" width="14.2" height="3.1" fill="#555"/>
<rect x="461.3" y="373.5" width="3" height="13.7" fill="#555"/>
</svg>
</body></html>
